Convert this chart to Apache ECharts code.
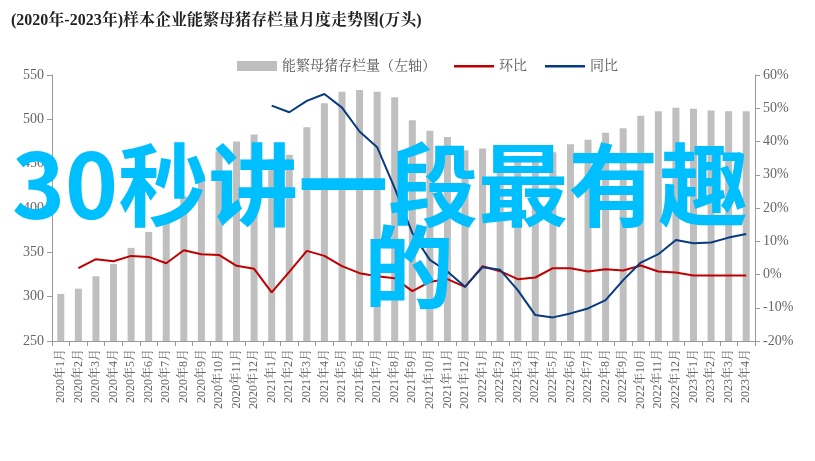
<!DOCTYPE html>
<html><head><meta charset="utf-8">
<script src="https://cdn.jsdelivr.net/npm/echarts@6/dist/echarts.min.js"></script>
<style>html,body{margin:0;padding:0;background:#fff}#c{width:815px;height:461px}</style>
</head><body><div id="c"></div>
<script>
const categories = [];
for (const y of [2020,2021,2022,2023]) for (let m=1;m<=12;m++){ if (y===2023 && m>4) break; categories.push(y+'年'+m+'月'); }
const inventory = [303,309,323,337,355,373,385,413,439,464,475,483,455,460,491,518,531,533,531,525,499,487,480,465,467,465,459,455,463,472,477,485,490,504,509,513,512,510,509,509];
const mom = [null,1.9,4.6,4.0,5.6,5.3,3.4,7.3,6.1,5.9,2.6,1.7,-5.4,0.8,7.1,5.6,2.5,0.4,-0.5,-1.1,-5.0,-2.2,-1.4,-3.7,2.5,1.0,-1.4,-0.9,1.9,1.9,0.9,1.6,1.2,2.7,0.9,0.6,-0.3,-0.3,-0.3,-0.3];
const yoy = [null,null,null,null,null,null,null,null,null,null,null,null,50.8,48.8,52.2,54.3,50.2,43,38.3,26,12.5,4.4,0.9,-3.7,2.2,1.4,-4.7,-12.2,-12.9,-11.7,-10.2,-7.7,-1.7,3.6,6.1,10.4,9.4,9.6,11.1,12.2];
const leftTicks = {min:250,max:550,interval:50};
const rightTicks = {min:-20,max:60,interval:10};
const font = '"Liberation Serif","Noto Serif CJK SC","Noto Sans CJK SC",serif';
const lineIcon = 'path://M0,0H0.01V0.01H0Z M0,4H40V6.5H0Z M39.99,9.99H40V10H39.99Z';
const chart = echarts.init(document.getElementById('c'));
chart.setOption({
  animation:false,
  title:{text:'(2020年-2023年)样本企业能繁母猪存栏量月度走势图(万头)',left:6,top:8,textStyle:{fontSize:16,fontWeight:'bold',color:'#222',fontFamily:font}},
  legend:{top:54,left:232,itemGap:18,itemWidth:40,itemHeight:10,textStyle:{color:'#555',fontSize:14,fontFamily:font},
    data:[{name:'能繁母猪存栏量（左轴）',icon:'rect'},{name:'环比',icon:lineIcon},{name:'同比',icon:lineIcon}]},
  grid:{left:52,right:60,top:75,bottom:120},
  xAxis:{type:'category',data:categories,boundaryGap:true,
    axisLine:{onZero:false,lineStyle:{color:'#999'}},axisTick:{show:true,lineStyle:{color:'#999'}},
    axisLabel:{rotate:90,interval:0,color:'#666',fontSize:12,fontFamily:font}},
  yAxis:[
    {type:'value',...leftTicks,splitLine:{show:false},axisLine:{show:true,lineStyle:{color:'#999'}},axisTick:{show:true,lineStyle:{color:'#999'}},
     axisLabel:{color:'#666',fontSize:14,fontFamily:font}},
    {type:'value',...rightTicks,splitLine:{show:false},axisLine:{show:true,lineStyle:{color:'#999'}},axisTick:{show:true,lineStyle:{color:'#999'}},
     axisLabel:{color:'#666',fontSize:14,fontFamily:font,formatter:'{value}%'}}
  ],
  series:[
    {name:'能繁母猪存栏量（左轴）',type:'bar',data:inventory,barWidth:7,itemStyle:{color:'#bfbfbf'}},
    {name:'环比',type:'line',yAxisIndex:1,data:mom,symbol:'none',lineStyle:{color:'#c00000',width:2},itemStyle:{color:'#c00000'}},
    {name:'同比',type:'line',yAxisIndex:1,data:yoy,symbol:'none',lineStyle:{color:'#073b80',width:2},itemStyle:{color:'#073b80'}}
  ],
  graphic:[
    {type:'text',left:12,top:140,z:100,style:{text:'30秒讲一段最有趣',fontSize:90,fontWeight:'bold',fill:'#00bfff',fontFamily:'"Noto Sans CJK SC",sans-serif'}},
    {type:'text',left:364,top:222,z:100,style:{text:'的',fontSize:90,fontWeight:'bold',fill:'#00bfff',fontFamily:'"Noto Sans CJK SC",sans-serif'}}
  ]
});
</script></body></html>
